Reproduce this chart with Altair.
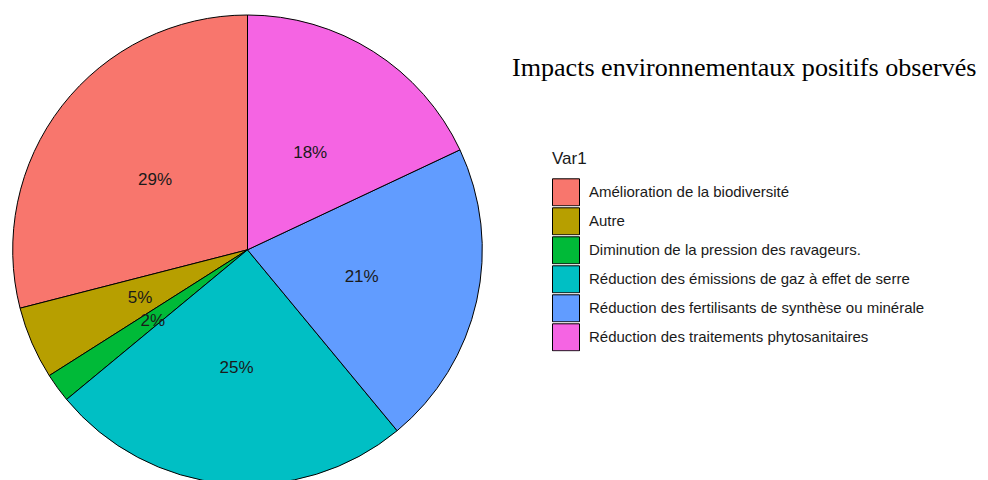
import altair as alt
import pandas as pd

categories = [
    "Amélioration de la biodiversité",
    "Autre",
    "Diminution de la pression des ravageurs.",
    "Réduction des émissions de gaz à effet de serre",
    "Réduction des fertilisants de synthèse ou minérale",
    "Réduction des traitements phytosanitaires",
]
values = [29, 5, 2, 25, 21, 18]
labels = ["29%", "5%", "2%", "25%", "21%", "18%"]
colors = ["#F8766D", "#B79F00", "#00BA38", "#00BFC4", "#619CFF", "#F564E3"]
title_text = "Impacts environnementaux positifs observés"

df = pd.DataFrame({
    "Var1": categories,
    "value": values,
    "label": labels,
    "idx": list(range(len(categories))),
})

CX, CY = 239.5, 241.8

base = alt.Chart(df).encode(
    theta=alt.Theta("value:Q", stack=True),
    order=alt.Order("idx:Q", sort="descending"),
    x=alt.value(CX),
    y=alt.value(CY),
)

arcs = base.mark_arc(outerRadius=234.8, stroke="black", strokeWidth=1).encode(
    color=alt.Color(
        "Var1:N",
        scale=alt.Scale(domain=categories, range=colors),
        legend=alt.Legend(
            title="Var1",
            orient="none",
            legendX=544,
            legendY=143,
            symbolType="square",
            symbolSize=729,
            symbolStrokeColor="black",
            symbolStrokeWidth=1,
            symbolOpacity=1,
            clipHeight=28.6,
            labelFont="Liberation Sans",
            labelFontSize=15,
            labelColor="#1a1a1a",
            labelLimit=0,
            labelOffset=9,
            titleFont="Liberation Sans",
            titleFontSize=17,
            titleFontWeight="normal",
            titleColor="#1a1a1a",
            titlePadding=10,
            rowPadding=0,
            padding=0,
        ),
    )
)

texts = base.mark_text(radius=117, dy=2, font="Liberation Sans", fontSize=17, color="#1a1a1a").encode(
    text="label:N"
)

chart = (
    alt.layer(arcs, texts)
    .properties(
        width=972,
        height=472,
        padding=0,
        autosize="none",
        title=alt.TitleParams(
            title_text,
            anchor="start",
            frame="group",
            font="Liberation Serif",
            fontSize=26.1,
            fontWeight="normal",
            color="black",
            baseline="alphabetic",
            offset=0,
            dx=504,
            dy=94,
        ),
    )
    .configure_view(stroke=None)
)

chart.save("out.html", embed_options={"renderer": "svg", "actions": False})
